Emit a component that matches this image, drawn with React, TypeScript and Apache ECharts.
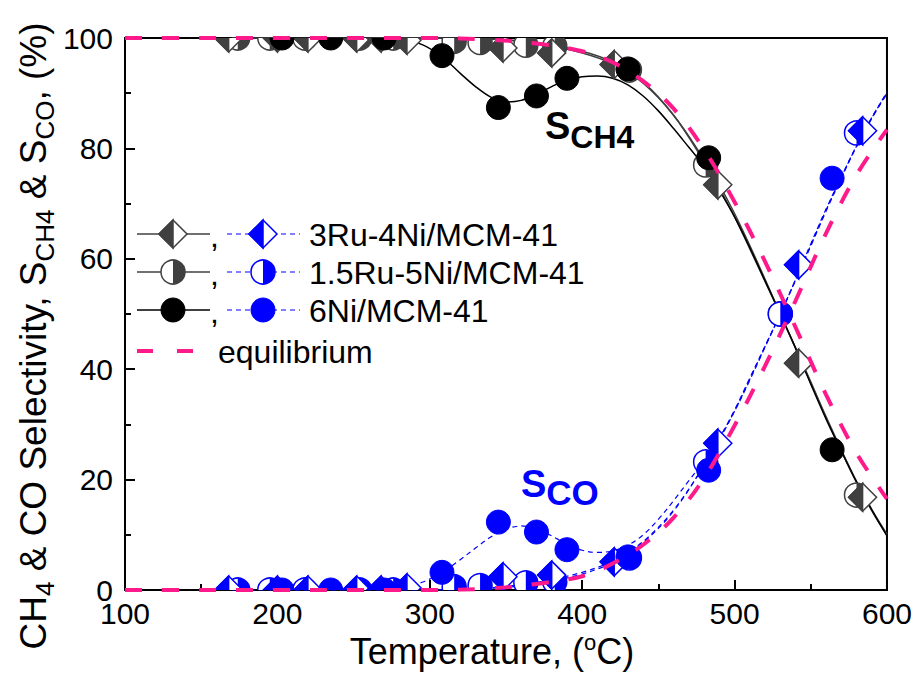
import React, { useEffect, useRef } from 'react';
import * as echarts from 'echarts';

// ---- measured catalyst data (temperature in °C, selectivity in %) ----
const temp3Ru4Ni = [168, 200, 220, 252, 268, 285, 348, 380, 421, 489, 542, 584];
const ch4_3Ru4Ni = [100, 100, 100, 100, 100, 99.6, 98.2, 97.3, 95.2, 73.4, 41.1, 16.8];
const co_3Ru4Ni = [0, 0, 0, 0, 0, 0.4, 2.4, 2.7, 5.1, 26.6, 58.9, 83.2];

const temp15Ru5Ni = [174, 195, 218, 254, 276, 316, 333, 363, 382, 431, 481, 530, 580];
const ch4_15Ru5Ni = [100, 100, 100, 100, 100, 99.4, 99.2, 98.7, 98.5, 94.2, 77, 50, 17.2];
const co_15Ru5Ni = [0, 0, 0, 0, 0, 0.6, 0.8, 1.3, 1.5, 5.8, 23.2, 50, 82.8];

const temp6Ni = [203, 235, 270, 308, 345, 370, 390, 430, 483, 564];
const ch4_6Ni = [100, 100, 100, 96.8, 87.4, 89.5, 92.7, 94.4, 78.3, 25.4];
const co_6Ni = [0, 0, 0, 3.2, 12.3, 10.5, 7.3, 6.0, 21.7, 74.6];

// ---- fitted trend curves ----
const fitTemp = [170, 300, 340, 370, 400, 420, 440, 460, 480, 490, 500, 510, 520, 530, 540, 550, 560, 570, 580, 590, 600];
const fitCH4_3Ru4Ni = [100, 100, 99.8, 99, 97.3, 95.3, 91.8, 86, 78, 73.4, 68.2, 62.4, 56.3, 50, 43.8, 37.5, 31.2, 25.2, 19.5, 14.4, 9.9];
const fitCH4_15Ru5Ni = [100, 100, 99.8, 99.2, 97.6, 95.6, 92, 86, 77.6, 72.8, 67.6, 61.8, 55.9, 50, 43.9, 37.7, 31.4, 25.4, 19.7, 14.6, 10.1];
const fitCO_3Ru4Ni = [0, 0, 0.4, 1.4, 3.2, 5.3, 8.8, 14.5, 22.5, 27.2, 32.4, 38.2, 44.1, 50, 56.2, 62.5, 68.8, 74.8, 80.5, 85.6, 90.1];
const fitCO_15Ru5Ni = [0, 0, 0.3, 1.1, 2.9, 5, 8.6, 14.3, 22.6, 27.4, 32.6, 38.4, 44.2, 50, 56.1, 62.3, 68.6, 74.6, 80.3, 85.4, 89.9];

const fit6NiTemp = [200, 280, 295, 308, 320, 330, 340, 350, 360, 370, 380, 390, 400, 410, 420, 430, 440, 450, 460, 470, 480, 490, 500, 510, 520, 530, 540, 550, 560, 570, 580, 590, 600];
const fitCH4_6Ni = [100, 99.8, 98.8, 96.6, 93.6, 91.2, 89.3, 88.4, 88.7, 89.8, 91.2, 92.4, 93, 93.1, 92.7, 91.5, 89.5, 86.8, 83.6, 80.2, 76.8, 72.4, 67.6, 62, 56, 50, 43.8, 37.3, 31, 25.2, 19.6, 14.5, 9.8];
const fitCO_6Ni = [0, 0.3, 1.4, 3.2, 5.5, 7.6, 9.6, 11, 11.6, 11.1, 9.8, 8.3, 7.2, 6.8, 7.1, 8.1, 10, 12.8, 16.2, 19.8, 23.4, 27.6, 32.4, 38, 44, 50, 56.2, 62.7, 69, 74.8, 80.4, 85.5, 90.2];

// ---- thermodynamic equilibrium ----
const eqTemp = [100, 150, 200, 250, 300, 340, 370, 400, 420, 440, 460, 480, 500, 520, 540, 560, 580, 600];
const eqCH4 = [100, 100, 100, 100, 100, 99.7, 99, 97.6, 95.6, 92.2, 87.2, 79.8, 70.3, 59.5, 47.6, 35.4, 24.8, 16.5];
const eqCO = [0, 0, 0, 0, 0, 0.3, 1.1, 2.5, 4.8, 8.2, 13.1, 20.3, 29.8, 40.6, 52.4, 64.6, 75.2, 83.4];

const xTicks = [100, 200, 300, 400, 500, 600];
const yTicks = [0, 20, 40, 60, 80, 100];

const legendLabels = ['3Ru-4Ni/MCM-41', '1.5Ru-5Ni/MCM-41', '6Ni/MCM-41', 'equilibrium'];

const FONT = '"Liberation Sans", Arial, Helvetica, sans-serif';
const DARK = '#404040';
const BLUE = '#0000ff';
const PINK = '#ff1a8c';

type Kind = 'diamondHalf' | 'circleHalf' | 'circleFull';

function markerShapes(kind: Kind, x: number, y: number, color: string): any[] {
  const lw = 1.5;
  if (kind === 'diamondHalf') {
    const r = 14;
    return [
      { type: 'polygon', shape: { points: [[x, y - r], [x + r, y], [x, y + r], [x - r, y]] }, style: { fill: '#fff', stroke: color, lineWidth: lw } },
      { type: 'polygon', shape: { points: [[x, y - r], [x, y + r], [x - r, y]] }, style: { fill: color, stroke: color, lineWidth: lw } },
    ];
  }
  if (kind === 'circleHalf') {
    const r = 12;
    return [
      { type: 'circle', shape: { cx: x, cy: y, r }, style: { fill: '#fff' } },
      { type: 'sector', shape: { cx: x, cy: y, r, r0: 0, startAngle: -Math.PI / 2, endAngle: Math.PI / 2, clockwise: true }, style: { fill: color } },
      { type: 'circle', shape: { cx: x, cy: y, r }, style: { fill: 'none', stroke: color, lineWidth: lw } },
    ];
  }
  return [{ type: 'circle', shape: { cx: x, cy: y, r: 12 }, style: { fill: color, stroke: color, lineWidth: 1 } }];
}

let measureCtx: CanvasRenderingContext2D | null = null;
function textWidth(text: string, size: number, weight: string) {
  if (!measureCtx) measureCtx = document.createElement('canvas').getContext('2d');
  measureCtx!.font = `${weight} ${size}px ${FONT}`;
  return measureCtx!.measureText(text).width;
}

type Piece = { t: string; size: number; dy: number };

// Lays text pieces along a shared baseline (y = 0), allowing sub/superscripts.
function richPieces(pieces: Piece[], color: string, weight: string, align: 'center' | 'left'): any[] {
  const widths = pieces.map((p) => textWidth(p.t, p.size, weight));
  const total = widths.reduce((a, b) => a + b, 0);
  let x = align === 'center' ? -total / 2 : 0;
  return pieces.map((p, i) => {
    const el = {
      type: 'text',
      x,
      y: p.dy - 0.3465 * p.size,
      style: {
        text: p.t,
        fontSize: p.size,
        fontFamily: FONT,
        fontWeight: weight,
        fill: color,
        align: 'left',
        textAlign: 'left',
        verticalAlign: 'middle',
        textVerticalAlign: 'middle',
      },
    };
    x += widths[i];
    return el;
  });
}

function pairs(xs: number[], ys: number[]) {
  return xs.map((x, i) => [x, ys[i]]);
}

function fitLine(name: string, xs: number[], ys: number[], color: string, dashed: boolean) {
  return {
    name,
    type: 'line',
    data: pairs(xs, ys),
    showSymbol: false,
    symbol: 'none',
    smooth: 0.35,
    clip: true,
    z: 2,
    lineStyle: { color, width: dashed ? 1.2 : 1.5, type: dashed ? [5, 4] : 'solid' },
  };
}

function markerSeries(name: string, xs: number[], ys: number[], kind: Kind, color: string) {
  return {
    name,
    type: 'custom',
    clip: true,
    z: 3,
    data: pairs(xs, ys),
    encode: { x: 0, y: 1 },
    renderItem: (_params: any, api: any) => {
      const p = api.coord([api.value(0), api.value(1)]);
      return { type: 'group', children: markerShapes(kind, p[0], p[1], color) };
    },
  };
}

function eqLine(name: string, ys: number[]) {
  return {
    name,
    type: 'line',
    data: pairs(eqTemp, ys),
    showSymbol: false,
    symbol: 'none',
    smooth: 0.35,
    clip: true,
    z: 4,
    lineStyle: { color: PINK, width: 4, type: [17, 20] },
  };
}

const textStyle = (text: string, size: number) => ({
  text,
  fontSize: size,
  fontFamily: FONT,
  fill: '#000',
  align: 'left',
  textAlign: 'left',
  verticalAlign: 'middle',
  textVerticalAlign: 'middle',
});

const LEGEND_FONT = 32;

function legendGraphic(): any[] {
  const rows = [
    { y: 234, kind: 'diamondHalf' as Kind, line: DARK },
    { y: 272, kind: 'circleHalf' as Kind, line: DARK },
    { y: 310, kind: 'circleFull' as Kind, line: '#000' },
  ];
  const els: any[] = [];
  rows.forEach((r, i) => {
    const solidColor = r.kind === 'circleFull' ? '#000' : DARK;
    els.push({ type: 'line', shape: { x1: 137, y1: r.y, x2: 210, y2: r.y }, style: { stroke: r.line, lineWidth: 1.5 } });
    els.push(...markerShapes(r.kind, 173, r.y, solidColor));
    els.push({ type: 'text', x: 210, y: r.y + 2, style: textStyle(',', LEGEND_FONT) });
    els.push({ type: 'line', shape: { x1: 227, y1: r.y, x2: 300, y2: r.y }, style: { stroke: BLUE, lineWidth: 1.2, lineDash: [5, 4] } });
    els.push(...markerShapes(r.kind, 263, r.y, BLUE));
    els.push({ type: 'text', x: 309, y: r.y + 1, style: textStyle(legendLabels[i], LEGEND_FONT) });
  });
  els.push({ type: 'line', shape: { x1: 137, y1: 351, x2: 153, y2: 351 }, style: { stroke: PINK, lineWidth: 4 } });
  els.push({ type: 'line', shape: { x1: 177, y1: 351, x2: 193, y2: 351 }, style: { stroke: PINK, lineWidth: 4 } });
  els.push({ type: 'text', x: 218, y: 352, style: textStyle(legendLabels[3], LEGEND_FONT) });
  return els;
}

export default function App() {
  const ref = useRef<HTMLDivElement>(null);

  useEffect(() => {
    if (!ref.current) return;
    const chart = echarts.init(ref.current, undefined, { renderer: 'svg' });

    const yTitle = richPieces(
      [
        { t: 'CH', size: 37, dy: 0 },
        { t: '4', size: 26, dy: 8 },
        { t: ' & CO Selectivity, S', size: 37, dy: 0 },
        { t: 'CH4', size: 26, dy: 8 },
        { t: ' & S', size: 37, dy: 0 },
        { t: 'CO', size: 26, dy: 8 },
        { t: ', (%)', size: 37, dy: 0 },
      ],
      '#000',
      'normal',
      'center'
    );
    const xTitle = richPieces(
      [
        { t: 'Temperature, (', size: 36, dy: 0 },
        { t: 'o', size: 22, dy: -14 },
        { t: 'C)', size: 36, dy: 0 },
      ],
      '#000',
      'normal',
      'center'
    );
    const sCH4 = richPieces(
      [
        { t: 'S', size: 38, dy: 0 },
        { t: 'CH4', size: 32, dy: 9 },
      ],
      '#000',
      'bold',
      'left'
    );
    const sCO = richPieces(
      [
        { t: 'S', size: 38, dy: 0 },
        { t: 'CO', size: 35, dy: 8 },
      ],
      BLUE,
      'bold',
      'left'
    );

    chart.setOption({
      animation: false,
      backgroundColor: '#fff',
      grid: { left: 125, right: 27, top: 38, bottom: 95, show: true, borderColor: '#000', borderWidth: 2 },
      xAxis: {
        type: 'value',
        min: xTicks[0],
        max: xTicks[xTicks.length - 1],
        interval: 100,
        axisLine: { lineStyle: { color: '#000', width: 2 } },
        axisTick: { inside: true, length: 10, lineStyle: { color: '#000', width: 2 } },
        minorTick: { show: true, splitNumber: 2, length: 6, lineStyle: { color: '#000', width: 2 } },
        axisLabel: { fontSize: 30, lineHeight: 24, fontFamily: FONT, color: '#000', margin: 11 },
        splitLine: { show: false },
      },
      yAxis: {
        type: 'value',
        min: yTicks[0],
        max: yTicks[yTicks.length - 1],
        interval: 20,
        axisLine: { lineStyle: { color: '#000', width: 2 } },
        axisTick: { inside: true, length: 10, lineStyle: { color: '#000', width: 2 } },
        minorTick: { show: true, splitNumber: 2, length: 6, lineStyle: { color: '#000', width: 2 } },
        axisLabel: { fontSize: 30, lineHeight: 22, fontFamily: FONT, color: '#000', margin: 12 },
        splitLine: { show: false },
      },
      series: [
        fitLine('fit CH4 3Ru-4Ni', fitTemp, fitCH4_3Ru4Ni, DARK, false),
        fitLine('fit CH4 1.5Ru-5Ni', fitTemp, fitCH4_15Ru5Ni, DARK, false),
        fitLine('fit CH4 6Ni', fit6NiTemp, fitCH4_6Ni, '#000', false),
        fitLine('fit CO 3Ru-4Ni', fitTemp, fitCO_3Ru4Ni, BLUE, true),
        fitLine('fit CO 1.5Ru-5Ni', fitTemp, fitCO_15Ru5Ni, BLUE, true),
        fitLine('fit CO 6Ni', fit6NiTemp, fitCO_6Ni, BLUE, true),
        markerSeries('CH4 1.5Ru-5Ni', temp15Ru5Ni, ch4_15Ru5Ni, 'circleHalf', DARK),
        markerSeries('CO 1.5Ru-5Ni', temp15Ru5Ni, co_15Ru5Ni, 'circleHalf', BLUE),
        markerSeries('CH4 3Ru-4Ni', temp3Ru4Ni, ch4_3Ru4Ni, 'diamondHalf', DARK),
        markerSeries('CO 3Ru-4Ni', temp3Ru4Ni, co_3Ru4Ni, 'diamondHalf', BLUE),
        markerSeries('CH4 6Ni', temp6Ni, ch4_6Ni, 'circleFull', '#000'),
        markerSeries('CO 6Ni', temp6Ni, co_6Ni, 'circleFull', BLUE),
        eqLine('equilibrium CH4', eqCH4),
        eqLine('equilibrium CO', eqCO),
      ],
      graphic: [
        { type: 'group', x: 46, y: 336, rotation: Math.PI / 2, children: yTitle },
        { type: 'group', x: 492, y: 664, children: xTitle },
        { type: 'group', x: 545, y: 139, children: sCH4 },
        { type: 'group', x: 521, y: 497, children: sCO },
        { type: 'group', x: 0, y: 0, z: 10, children: legendGraphic() },
      ],
    });

    return () => chart.dispose();
  }, []);

  return <div ref={ref} style={{ position: 'absolute', left: 0, top: 0, width: 915, height: 685 }} />;
}
